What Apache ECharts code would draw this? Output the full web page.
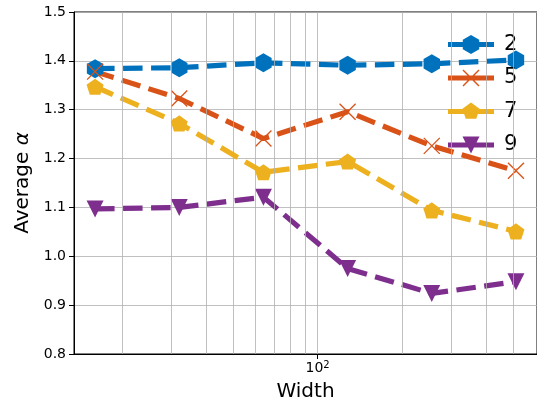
<!DOCTYPE html>
<html>
<head>
<meta charset="utf-8">
<script src="https://cdn.jsdelivr.net/npm/echarts@6/dist/echarts.min.js"></script>
<style>
html,body{margin:0;padding:0;background:#fff;}
#main{width:537px;height:407px;}
</style>
</head>
<body>
<div id="main"></div>
<script>
// ---- data ----
const widths = [16, 32, 64, 128, 256, 512];
const series2 = [1.384, 1.386, 1.396, 1.391, 1.394, 1.402];
const series5 = [1.378, 1.323, 1.241, 1.296, 1.226, 1.175];
const series7 = [1.347, 1.272, 1.172, 1.194, 1.094, 1.051];
const series9 = [1.097, 1.100, 1.121, 0.975, 0.924, 0.948];
const seriesNames = ['2', '5', '7', '9'];
const minorGridX = [20, 30, 40, 50, 60, 70, 80, 90, 200, 300, 400, 500];
const yMin = 0.8, yMax = 1.5, yStep = 0.1;
const xMin = 13.45, xMax = 608.9;

const colors = ['#0072BD', '#D95319', '#EDB120', '#7E2F8E'];
const hexagon = 'path://M0,-1 L0.866,-0.5 L0.866,0.5 L0,1 L-0.866,0.5 L-0.866,-0.5 Z';
const pentagon = 'path://M0,-1 L0.951,-0.309 L0.588,0.809 L-0.588,0.809 L-0.951,-0.309 Z';
const cross = 'path://M0,0 L1,1 M1,0 L0,1';

// legend icons: solid line bar + marker, drawn in a 46x23 box
const bar = 'M0,0 M46,23 M0,8.9 L46,8.9 L46,14.1 L0,14.1 Z ';
const legendIcons = [
  'path://' + bar + 'M23,2 L31.23,6.75 L31.23,16.25 L23,21 L14.77,16.25 L14.77,6.75 Z',
  'path://' + bar + 'M15.5,3 L31.5,19 L30.5,20 L14.5,4 Z M31.5,4 L15.5,20 L14.5,19 L30.5,3 Z',
  'path://' + bar + 'M23,2.5 L31.56,8.72 L28.29,18.78 L17.71,18.78 L14.44,8.72 Z',
  'path://' + bar + 'M14.5,3 L31.5,3 L23,20 Z'
];

function pairs(vals) { return widths.map((w, i) => [w, vals[i]]); }

const font = 'DejaVu Sans';
const chart = echarts.init(document.getElementById('main'), null, {renderer: 'canvas'});

function mkSeries(name, vals, color, symbol, size, extra) {
  return Object.assign({
    name: name,
    type: 'line',
    data: pairs(vals),
    symbol: symbol,
    symbolSize: size,
    symbolKeepAspect: true,
    z: 3,
    lineStyle: {color: color, width: 5.2, type: [19.5, 8.5]},
    itemStyle: {color: color},
    emphasis: {disabled: true},
    animation: false
  }, extra || {});
}

const option = {
  backgroundColor: '#fff',
  animation: false,
  textStyle: {fontFamily: font},
  grid: {left: 74, top: 12, width: 468, height: 343, show: true, borderColor: '#000', borderWidth: 1, backgroundColor: 'transparent'},
  legend: {
    data: seriesNames.map((n, i) => ({name: n, icon: legendIcons[i]})),
    left: 443, top: 28,
    orient: 'vertical',
    itemWidth: 46, itemHeight: 23, itemGap: 10.5,
    itemStyle: {borderWidth: 0},
    textStyle: {fontSize: 21, color: '#000', fontFamily: font, padding: [0, 0, 0, 5]}
  },
  xAxis: {
    type: 'log', logBase: 10, min: xMin, max: xMax,
    name: 'Width', nameLocation: 'middle', nameGap: 28,
    nameTextStyle: {fontSize: 20, color: '#000', fontFamily: font},
    axisLine: {lineStyle: {color: '#000', width: 1}},
    axisTick: {show: true, length: 5, lineStyle: {color: '#000'}},
    splitLine: {show: true, lineStyle: {color: '#b0b0b0', width: 0.8}},
    axisLabel: {
      color: '#000', fontSize: 14, margin: 6, showMinLabel: false, showMaxLabel: false,
      formatter: function (v) {
        const e = Math.log10(v);
        if (Math.abs(e - Math.round(e)) < 1e-6) return '10{sup|' + Math.round(e) + '}';
        return '';
      },
      rich: {sup: {fontSize: 10, verticalAlign: 'top', padding: [0, 0, 6, 0], color: '#000'}}
    }
  },
  yAxis: {
    type: 'value', min: yMin, max: yMax, interval: yStep,
    name: 'Average {i|α}', nameLocation: 'middle', nameGap: 40, nameRotate: 90,
    nameTextStyle: {fontSize: 20, color: '#000', fontFamily: font, rich: {i: {fontSize: 20, fontStyle: 'italic', fontFamily: font, color: '#000'}}},
    axisLine: {show: true, lineStyle: {color: '#000', width: 1}},
    axisTick: {show: true, length: 5, lineStyle: {color: '#000'}},
    splitLine: {show: true, lineStyle: {color: '#b0b0b0', width: 0.8}},
    axisLabel: {color: '#000', fontSize: 14, margin: 8, formatter: v => v.toFixed(1)}
  },
  series: [
    {
      type: 'line', data: [], z: 1, silent: true,
      markLine: {
        silent: true, symbol: ['none', 'none'], animation: false,
        label: {show: false},
        lineStyle: {color: '#b0b0b0', width: 0.8, type: 'solid'},
        data: minorGridX.map(v => ({xAxis: v}))
      }
    },
    mkSeries(seriesNames[0], series2, colors[0], hexagon, 19),
    mkSeries(seriesNames[1], series5, colors[1], cross, 16, {itemStyle: {color: colors[1], borderColor: colors[1], borderWidth: 1.3}}),
    mkSeries(seriesNames[2], series7, colors[2], pentagon, 17),
    mkSeries(seriesNames[3], series9, colors[3], 'triangle', 17, {symbolRotate: 180})
  ]
};
chart.setOption(option);
</script>
</body>
</html>
